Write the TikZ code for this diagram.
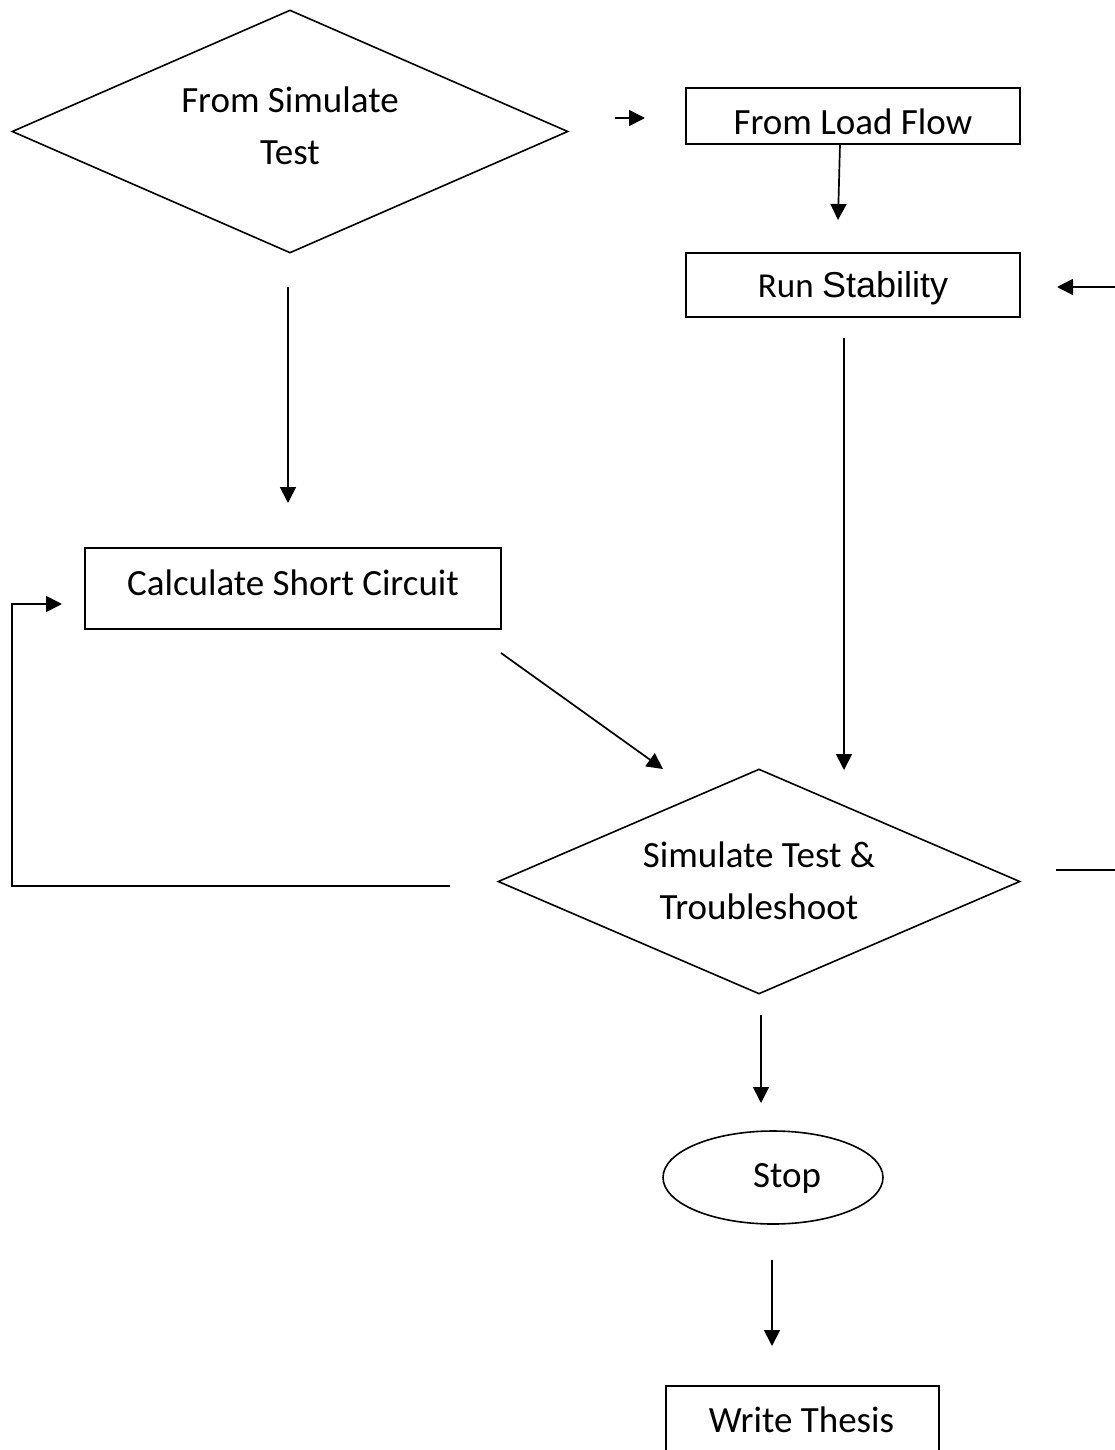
\documentclass[tikz,border=0pt]{standalone}
\usepackage{fontspec}
\setmainfont{Carlito}
\newfontfamily\arialf{Liberation Sans}
\usetikzlibrary{shapes.geometric,arrows.meta}
\begin{document}
\begin{tikzpicture}[x=1pt,y=-1pt,
  every node/.style={font=\fontsize{37}{52}\selectfont},
  txt/.style={inner sep=0pt,align=center},
  ln/.style={line width=1.7pt},
  arr/.style={ln,-{Triangle[length=16pt,width=16pt]}},
  boxs/.style={draw,line width=1.8pt,rectangle,inner sep=0pt},
  dia/.style={draw,line width=1.6pt,diamond,inner sep=0pt},
]
\clip (0,0) rectangle (1115,1450);
\fill[white] (0,0) rectangle (1115,1450);

% shapes
\node[dia,minimum width=556pt,minimum height=243pt] (d1) at (290,131.5) {};
\node[txt] (d1t) at (290,126) {From Simulate\\Test};
\node[boxs,minimum width=334pt,minimum height=56pt] (lf) at (853,116) {};
\node[txt] (lft) at (853,122) {From Load Flow};
\node[boxs,minimum width=334pt,minimum height=64pt] (rs) at (853,285) {};
\node[txt] (rst) at (853,288) {{\fontsize{35}{40}\selectfont Run} {\arialf\fontsize{36}{40}\selectfont Stability}};
\node[boxs,minimum width=416pt,minimum height=81pt] (sc) at (293,588.5) {};
\node[txt] (sct) at (293,583) {Calculate Short Circuit};
\node[dia,minimum width=522pt,minimum height=225pt] (d2) at (759,881.5) {};
\node[txt] (d2t) at (759,881) {Simulate Test \&\\Troubleshoot};
\node[draw,ellipse,line width=1.6pt,minimum width=220pt,minimum height=93pt,inner sep=0pt] (st) at (773,1177.5) {};
\node[txt] (stt) at (787,1178) {Stop};
\node[boxs,minimum width=273pt,minimum height=90pt,anchor=north west] (wt) at (665,1385) {};
\node[txt] (wtt) at (801.5,1420) {Write Thesis};

% free ends
\coordinate (a1s) at (615,118);  \coordinate (a1e) at (645,118);
\coordinate (a2s) at (840,144);  \coordinate (a2e) at (838,220);
\coordinate (a3s) at (1118,287); \coordinate (a3e) at (1057,287);
\coordinate (a4s) at (844,338);  \coordinate (a4e) at (844,770);
\coordinate (a5s) at (288,287);  \coordinate (a5e) at (288,503);
\coordinate (a6s) at (501,653);  \coordinate (a6e) at (663,769);
\coordinate (a7s) at (450,886);  \coordinate (a7c1) at (12,886); \coordinate (a7c2) at (12,604); \coordinate (a7e) at (62,604);
\coordinate (a8s) at (1056,870); \coordinate (a8e) at (1118,870);
\coordinate (a9s) at (761,1015); \coordinate (a9e) at (761,1103);
\coordinate (a10s) at (772,1260); \coordinate (a10e) at (772,1346);

\draw[arr] (a1s) -- (a1e);
\draw[arr] (a2s) -- (a2e);
\draw[arr] (a3s) -- (a3e);
\draw[arr] (a4s) -- (a4e);
\draw[arr] (a5s) -- (a5e);
\draw[arr] (a6s) -- (a6e);
\draw[arr] (a7s) -- (a7c1) -- (a7c2) -- (a7e);
\draw[ln] (a8s) -- (a8e);
\draw[arr] (a9s) -- (a9e);
\draw[arr] (a10s) -- (a10e);
\end{tikzpicture}
\end{document}
